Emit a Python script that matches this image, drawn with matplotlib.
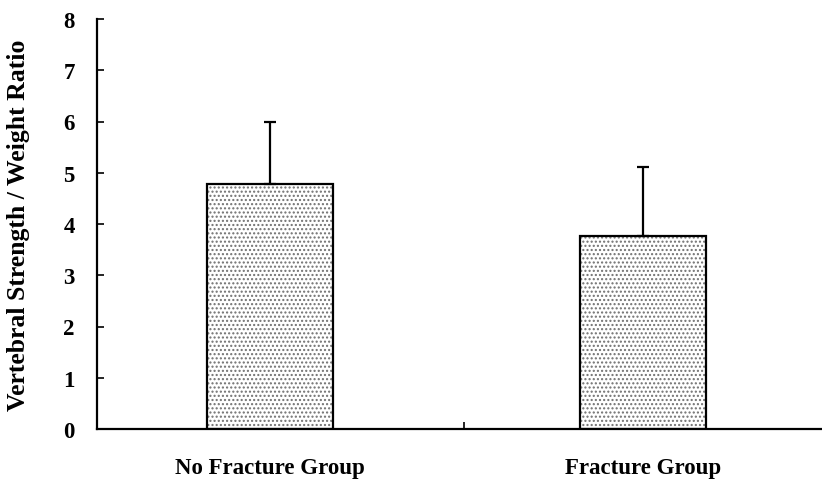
import numpy as np
import matplotlib.pyplot as plt

categories = ['No Fracture Group', 'Fracture Group']
means = [4.78, 3.77]
errors = [1.22, 1.35]
yticks = [0, 1, 2, 3, 4, 5, 6, 7, 8]

plt.rcParams['font.family'] = ['Liberation Serif', 'DejaVu Serif']
plt.rcParams['font.weight'] = 'bold'

fig = plt.figure(figsize=(8.22, 4.81), dpi=100)
ax = fig.add_axes([97 / 822, 51 / 481, 725 / 822, 410 / 481])

x = np.arange(len(categories))
w = 0.338

# stippled fill, then the black outline on top
ax.bar(x, means, w, color='white', edgecolor='#707070', hatch='....', linewidth=0, zorder=2)
ax.bar(x, means, w, fill=False, edgecolor='black', linewidth=1.6, zorder=3)
ax.errorbar(x, means, yerr=[[0, 0], errors], fmt='none', ecolor='black',
            elinewidth=1.6, capsize=4, capthick=1.6, zorder=4)

ax.set_xlim(-173 / 373, 552 / 373)
ax.set_ylim(0, 8)
ax.set_yticks(yticks)
ax.set_xticks(x)
ax.set_xticklabels(categories, fontsize=16.5, fontweight='bold')
ax.set_xticks([0.52], minor=True)
ax.tick_params(axis='x', which='major', length=0, pad=20)
ax.tick_params(axis='x', which='minor', direction='in', length=5, width=1.2)
ax.tick_params(axis='y', direction='in', length=5, width=1.2, pad=16, labelsize=16.5)
for lab in ax.get_yticklabels():
    lab.set_fontweight('bold')

ax.set_ylabel('Vertebral Strength / Weight Ratio', fontsize=18.5, fontweight='bold')
ax.yaxis.set_label_coords(-0.092, 0.5)

for s in ['top', 'right']:
    ax.spines[s].set_visible(False)
for s in ['left', 'bottom']:
    ax.spines[s].set_linewidth(1.6)

fig.savefig('out.png', dpi=100)
